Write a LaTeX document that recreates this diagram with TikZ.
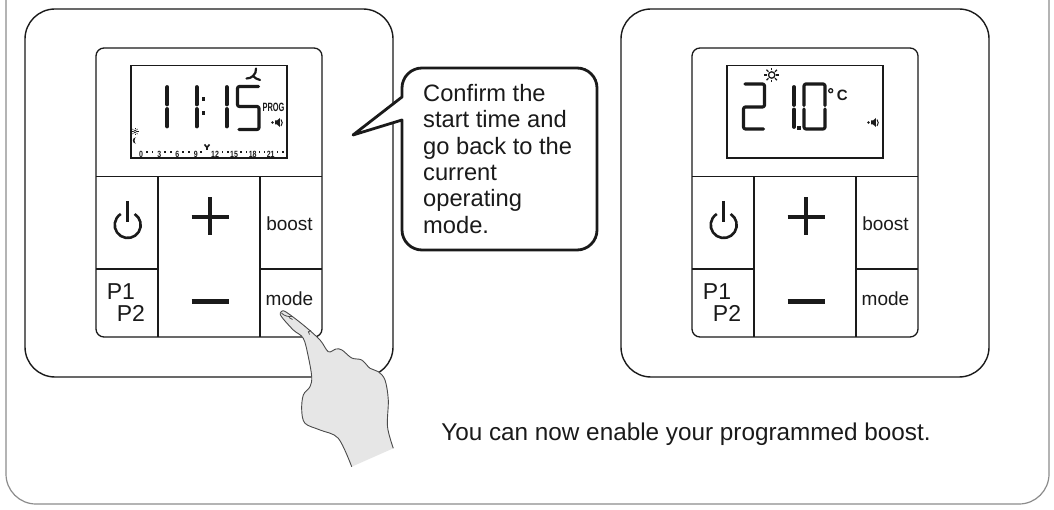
\documentclass[tikz,border=0pt]{standalone}
\usepackage{fontspec}
\setmainfont{Liberation Sans}
\usetikzlibrary{calc}

\definecolor{ink}{HTML}{1A1A1A}
\definecolor{framegray}{HTML}{8C8C8C}
\definecolor{skin}{HTML}{E6E6E6}
\definecolor{skinline}{HTML}{4A4A4A}

\tikzset{
  casing/.style={draw=ink, line width=1.4pt, rounded corners=30pt},
  facepanel/.style={draw=ink, line width=1.3pt, rounded corners=8pt},
  lcdwin/.style={draw=ink, line width=1.8pt},
  divider/.style={draw=ink, line width=1.3pt},
  barseg/.style={draw=ink, line width=3.8pt, line cap=round},
  loopseg/.style={draw=ink, line width=3.2pt, line cap=round, line join=round, rounded corners=2pt},
  keysym/.style={draw=ink, line width=4.2pt},
  keylabel/.style={font=\fontsize{19}{19}\selectfont, text=ink, inner sep=0pt, anchor=base},
  bigkey/.style={font=\fontsize{23}{23}\selectfont, text=ink, inner sep=0pt, anchor=base west},
  prose/.style={font=\fontsize{23.7}{26.3}\selectfont, text=ink, inner sep=0pt},
  remark/.style={font=\fontsize{24.3}{26.3}\selectfont, text=ink, inner sep=0pt},
  tiny/.style={font=\bfseries\fontsize{9}{9}\selectfont, text=ink, inner sep=0pt},
  icon/.style={draw=ink, line width=1.3pt},
  handskin/.style={fill=skin},
  handline/.style={draw=skinline, line width=0.9pt, line join=round},
}

% Speaker symbol, #1 = position of its dot
\newcommand\speakerat[1]{%
  \fill[ink] ($#1$) circle (1.3pt);
  \fill[ink] ($#1+(2.5,-2)$) -- ++(2.2,0) -- ++(2.6,-2.5) -- ++(0,9) -- ++(-2.6,-2.5) -- ++(-2.2,0) -- cycle;
  \draw[ink, line width=1pt] ($#1+(8.5,-3)$) to[bend left=40] ($#1+(8.5,3.5)$);
}

% One thermostat: casing, face, display window and keys
% #1 = name prefix, #2 = horizontal shift
\newcommand\thermostat[2]{%
  \begin{scope}[xshift=#2pt]
    \draw[casing] (25,9) rectangle (393,377);
    \draw[facepanel] (96,48) rectangle (322,337);
    \draw[lcdwin] (130.7,65.5) rectangle (286.7,158.3);
    \draw[divider] (96,176.7) -- (322,176.7);
    \draw[divider] (158,176.7) -- (158,337);
    \draw[divider] (260,176.7) -- (260,337);
    \draw[divider] (96,269) -- (158,269);
    \draw[divider] (260,269) -- (322,269);
    % on/off key
    \draw[ink, line width=2.6pt] (127.7,201) -- (127.7,222.5);
    \draw[ink, line width=2.6pt] ([shift={(58:13pt)}]127.7,225)
      arc[start angle=58, end angle=-238, radius=13pt];
    % plus and minus keys
    \draw[keysym] (191.5,216.7) -- (229,216.7);
    \draw[keysym] (210,197.5) -- (210,235.5);
    \draw[keysym, line width=5.5pt] (191.5,301.7) -- (229,301.7);
    % labelled keys
    \node[keylabel] (#1boost) at (289.5,230.7) {boost};
    \node[keylabel] (#1mode) at (289.5,306) {mode};
    \node[bigkey] (#1pone) at (106.7,299.3) {P1};
    \node[bigkey] (#1ptwo) at (116.7,321.7) {P2};
  \end{scope}
}

\begin{document}
\begin{tikzpicture}[x=1pt, y=-1pt]
  \useasboundingbox (0,0) rectangle (1054,510);
  \fill[white] (0,0) rectangle (1054,510);

  % outer frame, open at the top
  \draw[framegray, line width=1.2pt, rounded corners=30pt] (6,-40) rectangle (1049,504);

  \thermostat{L}{0}
  \thermostat{R}{596}

  % ---- left display: clock 11:15 ----
  \draw[barseg] (167.2,87) -- (167.2,104.5);
  \draw[barseg] (167.2,109) -- (167.2,126.5);
  \draw[barseg] (196.7,87) -- (196.7,104.5);
  \draw[barseg] (196.7,109) -- (196.7,126.5);
  \fill[ink] (201.6,97.3) rectangle (205,100.7);
  \fill[ink] (201.6,111.3) rectangle (205,114.7);
  \draw[barseg] (226.7,87) -- (226.7,104.5);
  \draw[barseg] (226.7,109) -- (226.7,126.5);
  \draw[loopseg] (258.5,86.5) -- (237.5,86.5) -- (237.5,106.5) -- (259,106.5) -- (259,129.5) -- (239,129.5);
  % fan symbol
  \draw[ink, line width=2.2pt, line cap=round] (253,76) to[bend right=25] (256,68.5);
  \draw[ink, line width=2.2pt, line cap=round] (253,76) to[bend left=20] (246.5,78.5);
  \draw[ink, line width=2.2pt, line cap=round] (253,76) to[bend right=15] (260,80);
  % programme tag and speaker
  \node[inner sep=0pt, text=ink, font=\bfseries\fontsize{12}{12}\selectfont] (progtag) at (273.5,107.5) {\scalebox{0.62}[1]{PROG}};
  \speakerat{(272.5,122.5)}
  % day / night marks
  \draw[ink, line width=0.7pt] (135,131.5) circle (1.5pt);
  \foreach \a in {0,45,...,315} \draw[ink, line width=0.6pt] ([shift={(\a:2.3pt)}]135,131.5) -- ([shift={(\a:3.6pt)}]135,131.5);
  \fill[ink] ([shift={(90:3.2pt)}]136,140.5) arc[start angle=90, end angle=270, radius=3.2pt]
    arc[start angle=270, end angle=90, x radius=1.4pt, y radius=3.2pt];
  % 24 h bar
  \foreach \n/\xx in {0/141, 3/159.3, 6/177.3, 9/195.7, 12/215, 15/234, 18/252.7, 21/270.7}
    \node[tiny] (hour\n) at (\xx,154) {\scalebox{0.78}[1]{\n}};
  \foreach \xx in {147,152.5,165,171,183,189,201,222.5,228,241,246.5,259.5,264.5,277.5,283}
    \fill[ink] (\xx-0.7,151.4) rectangle (\xx+0.7,153);
  \draw[ink, line width=1.6pt, line join=round] (204.5,144.5) -- (207,147.5) -- (209.5,144.5);
  \draw[ink, line width=1.6pt] (207,147.5) -- (207,150.5);

  % ---- right display: 21.0 degrees ----
  \draw[loopseg] (745,84) -- (764.5,84) -- (764.5,107) -- (743.5,107) -- (743.5,129) -- (763.5,129);
  \draw[barseg] (794,87) -- (794,105);
  \draw[barseg] (794,109.5) -- (794,127);
  \fill[ink] (797,126.5) rectangle (800.5,130);
  \draw[loopseg] (804,105.5) -- (804,84) -- (825,84) -- (825,105.5);
  \draw[loopseg] (804,109) -- (804,129) -- (825,129) -- (825,109);
  \draw[ink, line width=1.3pt] (830.7,90.7) circle (2pt);
  \node[inner sep=0pt, text=ink, font=\bfseries\fontsize{15}{15}\selectfont] (unitc) at (842.3,95) {C};
  \draw[icon] (771.7,75) circle (3.2pt);
  \foreach \a in {0,45,...,315} \draw[ink, line width=1.2pt] ([shift={(\a:4.6pt)}]771.7,75) -- ([shift={(\a:7.4pt)}]771.7,75);
  \speakerat{(868.5,122.5)}

  % ---- speech bubble ----
  \draw[ink, line width=2.8pt, fill=white, line join=round]
    (402,97) -- (402,88) arc[start angle=180, end angle=90, radius=20pt]
    -- (577,68) arc[start angle=90, end angle=0, radius=20pt]
    -- (597,230) arc[start angle=0, end angle=-90, radius=20pt]
    -- (422,250) arc[start angle=270, end angle=180, radius=20pt]
    -- (402,120) -- (353,135) -- cycle;
  % anchored at the baseline of the last line
  \node[prose, align=left, anchor=base west] (msg) at (423,233.2)
    {Confirm the\\start time and\\go back to the\\current\\operating\\mode.};

  % ---- finger pressing the mode key ----
  \path[handskin] plot[smooth, tension=0.55] coordinates {
    (351.7,466.7) (338.3,438.3) (320,430) (305,423.3) (301.7,410) (303.3,395)
    (310,386.7) (311.7,376.7) (308.3,356.7) (303.3,338.3) (293.3,330) (281,316)
    (281.5,311.5) (286,312) (303.3,325) (320,340) (328.3,351.7) (336,349)
    (342,350) (351.7,358) (361.7,360) (370,368.3) (378.3,371.7) (385,380)
    (388.3,400) (387.5,426.7) (393.3,448.3)} -- cycle;
  \draw[handline] plot[smooth, tension=0.55] coordinates {
    (351.7,466.7) (338.3,438.3) (320,430) (305,423.3) (301.7,410) (303.3,395)
    (310,386.7) (311.7,376.7) (308.3,356.7) (303.3,338.3) (293.3,330) (281,316)
    (281.5,311.5) (286,312) (303.3,325) (320,340) (328.3,351.7) (336,349)
    (342,350) (351.7,358) (361.7,360) (370,368.3) (378.3,371.7) (385,380)
    (388.3,400) (387.5,426.7) (393.3,448.3)};
  % nail and knuckle creases
  \draw[handline, line width=0.8pt] (281.5,313) .. controls (284,316) and (289,317) .. (292,316.5);
  \draw[handline, line width=0.8pt] (289,317.5) -- (292.5,319.5);
  \draw[handline, line width=0.8pt] (308,332) -- (311,330.5);
  \draw[handline, line width=0.8pt] (308.5,331.8) -- (309.5,334.5);

  % ---- closing remark ----
  \node[remark, anchor=base] (note) at (686,440) {You can now enable your programmed boost.};
\end{tikzpicture}
\end{document}
